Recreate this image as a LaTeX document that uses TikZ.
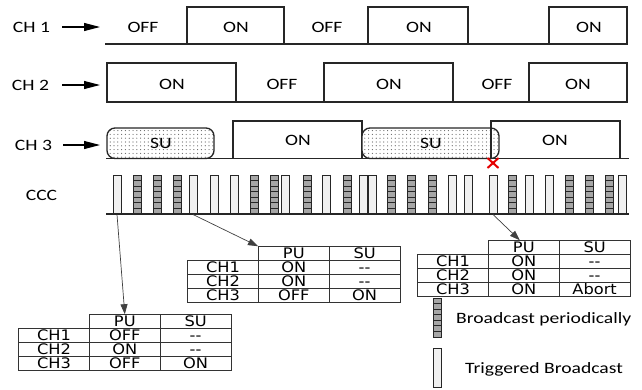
\documentclass[tikz,border=0pt]{standalone}
\usepackage{fontspec}
\setmainfont[FakeStretch=1.24]{Carlito}
\newfontfamily\tblfont[FakeStretch=1.12]{DejaVu Sans}
\usetikzlibrary{arrows.meta,patterns.meta,shapes.misc,matrix}

\tikzset{
 lbl/.style={font=\fontsize{15.8}{18}\selectfont, inner sep=0pt, text height=10pt, text depth=0pt},
 sig/.style={draw=black!85, line width=1.3pt},
 baseln/.style={draw=black!85, line width=1.8pt},
 larr/.style={draw=black, line width=1.1pt, -{Triangle[length=16pt,width=8pt]}},
 carr/.style={draw=black!75, line width=0.7pt, -{Triangle[length=10pt,width=7pt]}},
 subox/.style={draw=black!85, line width=1.3pt, rounded corners=8pt,
   pattern={Dots[distance=3.8pt, radius=0.6pt]}, pattern color=black!60, preaction={fill=white}},
 tbarbox/.style={draw=black!85, line width=1pt, fill=black!6, minimum width=8pt, minimum height=39pt, inner sep=0pt},
 pbarbox/.style={tbarbox, fill=black!35, path picture={
   \foreach \k in {1,...,6}{\draw[black!85, line width=0.9pt]
     ([yshift=-\k*5.57pt]path picture bounding box.north west) --
     ([yshift=-\k*5.57pt]path picture bounding box.north east);}}},
 tbl/.style={matrix of nodes, inner sep=0pt, column sep=-0.8pt, row sep=-0.8pt,
   nodes={draw=black!80, line width=0.8pt, minimum width=70.8pt, minimum height=14pt,
     inner sep=0pt, font=\tblfont\fontsize{14.5}{15}\selectfont, text height=10.4pt,
     text depth=0pt, anchor=center}},
}

\begin{document}
\begin{tikzpicture}[x=1pt,y=-1pt]
\useasboundingbox (0,0) rectangle (642,389);

% ---------- labels ----------
\node[lbl] (ch1) at (31.5,27) {CH 1};
\node[lbl] (ch2) at (30.5,85) {CH 2};
\node[lbl] (ch3) at (33.5,145) {CH 3};
\node[lbl] (ccc) at (41.5,195) {CCC};
\coordinate (a1) at (100,27);
\coordinate (a2) at (100,85);
\coordinate (a3) at (100,145);
\draw[larr] (62,27) -- (a1);
\draw[larr] (62,85) -- (a2);
\draw[larr] (63,145) -- (a3);

% ---------- CH 1 ----------
\draw[sig] (187,44) rectangle (284,7);
\draw[sig] (368,44) rectangle (468,7);
\draw[sig] (549,44) rectangle (627,7);
\draw[baseln] (105,44) -- (627,44);
\node[lbl] (c1a) at (143,27) {OFF};
\node[lbl] (c1b) at (236,27) {ON};
\node[lbl] (c1c) at (327,27) {OFF};
\node[lbl] (c1d) at (419,27) {ON};
\node[lbl] (c1e) at (589,27) {ON};

% ---------- CH 2 ----------
\draw[sig] (107,63) rectangle (236,102);
\draw[sig] (324,63) rectangle (453,102);
\draw[sig] (529,63) rectangle (627,102);
\draw[baseln] (107,102) -- (627,102);
\node[lbl] (c2a) at (172,84) {ON};
\node[lbl] (c2b) at (282,84) {OFF};
\node[lbl] (c2c) at (389,84) {ON};
\node[lbl] (c2d) at (497,84) {OFF};
\node[lbl] (c2e) at (578,84) {ON};

% ---------- CH 3 ----------
\draw[subox] (107,158.5) rectangle (214,128);
\draw[sig] (233,158.5) rectangle (362,121);
\draw[subox] (362,158.5) rectangle (499,128);
\draw[sig] (491,158.5) rectangle (620,121);
\draw[baseln] (106,158.5) -- (629,158.5);
\node[lbl] (c3a) at (161,143) {SU};
\node[lbl] (c3b) at (298,140) {ON};
\node[lbl] (c3c) at (431,143) {SU};
\node[lbl] (c3d) at (555,140) {ON};
\node[cross out, draw=red!90!black, line width=2pt, minimum width=9pt, minimum height=8pt, inner sep=0pt] (xx) at (493,163) {};

% ---------- CCC ----------
\foreach \i/\x in {1/117,5/193,6/214,7/234,10/285,12/326,14/363,15/372,19/452,20/468,21/493,23/529,24/549,28/622}
  \node[tbarbox] (b\i) at (\x,194.5) {};
\foreach \i/\x in {2/137,3/157,4/177,8/254,9/274,11/307,13/347,16/391,17/411,18/432,22/512,25/569,26/589,27/609}
  \node[pbarbox] (b\i) at (\x,194.5) {};
\draw[baseln] (106,214) -- (629,214);

% ---------- tables ----------
\matrix[tbl, anchor=north west] (t1) at (18,314) {
      & PU  & SU \\
  CH1 & OFF & -{}- \\
  CH2 & ON  & -{}- \\
  CH3 & OFF & ON \\
};
\matrix[tbl, anchor=north west] (t2) at (187,246) {
      & PU  & SU \\
  CH1 & ON  & -{}- \\
  CH2 & ON  & -{}- \\
  CH3 & OFF & ON \\
};
\matrix[tbl, anchor=north west] (t3) at (417,240) {
      & PU  & SU \\
  CH1 & ON  & -{}- \\
  CH2 & ON  & -{}- \\
  CH3 & ON  & Abort \\
};

\draw[carr] (b1.south) -- (t1-1-2.north);
\draw[carr] (b5.south) -- (t2-1-2.north west);
\draw[carr] (b21.south) -- ([xshift=-4pt]t3-1-2.north);

% ---------- legend ----------
\node[pbarbox] (lp) at (437,317.5) {};
\node[tbarbox] (lt) at (437,368) {};
\node[lbl, anchor=west] (lpt) at (456,318) {Broadcast periodically};
\node[lbl, anchor=west] (ltt) at (465,368) {Triggered Broadcast};
\end{tikzpicture}
\end{document}
